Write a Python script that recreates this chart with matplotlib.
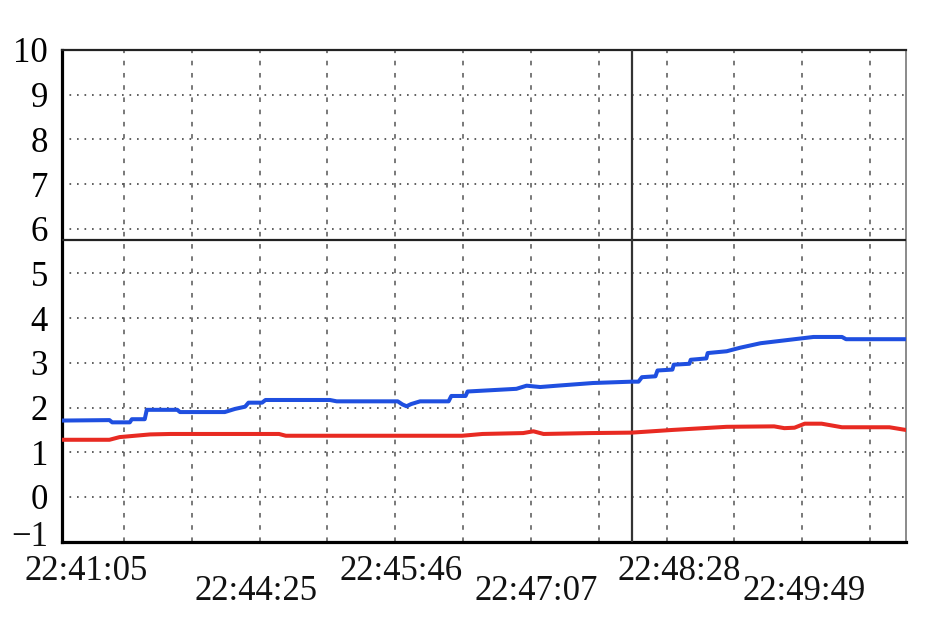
import matplotlib.pyplot as plt
from matplotlib.ticker import FixedLocator

# x is measured in grid divisions from the left edge of the plot
blue_x = [0.0, 0.70, 0.74, 1.00, 1.03, 1.22, 1.25, 1.70, 1.74, 2.40, 2.55, 2.70, 2.75, 2.95,
          3.00, 3.95, 4.05, 4.95, 5.02, 5.08, 5.15, 5.28, 5.70, 5.74, 5.95, 5.98, 6.70, 6.85,
          7.05, 7.30, 7.83, 8.40, 8.50, 8.55, 8.75, 8.78, 9.00, 9.02, 9.25, 9.27, 9.50, 9.52,
          9.80, 10.00, 10.30, 10.80, 11.08, 11.50, 11.56, 12.44]
blue_y = [1.71, 1.72, 1.67, 1.67, 1.74, 1.74, 1.95, 1.95, 1.90, 1.90, 1.97, 2.02, 2.11, 2.11,
          2.17, 2.17, 2.14, 2.14, 2.07, 2.03, 2.08, 2.14, 2.14, 2.26, 2.26, 2.36, 2.42, 2.49,
          2.46, 2.49, 2.55, 2.58, 2.58, 2.68, 2.70, 2.83, 2.85, 2.96, 2.98, 3.07, 3.10, 3.22,
          3.26, 3.34, 3.44, 3.53, 3.58, 3.58, 3.53, 3.53]

red_x = [0.0, 0.70, 0.85, 1.30, 1.60, 3.20, 3.30, 5.90, 6.20, 6.80, 6.95, 7.10, 7.80, 8.40,
         9.00, 9.80, 10.50, 10.65, 10.80, 10.95, 11.20, 11.50, 12.20, 12.44]
red_y = [1.28, 1.28, 1.34, 1.40, 1.41, 1.41, 1.37, 1.37, 1.41, 1.43, 1.47, 1.41, 1.43, 1.44,
         1.50, 1.57, 1.58, 1.54, 1.55, 1.64, 1.64, 1.56, 1.56, 1.50]

time_labels = ["22:41:05", "22:44:25", "22:45:46", "22:47:07", "22:48:28", "22:49:49"]
label_pos = [0.35, 2.86, 5.00, 6.99, 9.10, 10.94]
grid_x = [0.914 + k for k in range(12)]
y_ticks = list(range(0, 11))
limit_level = 5.75
cursor_x = 8.40

plt.rcParams['font.family'] = ['Liberation Serif', 'DejaVu Serif']

fig = plt.figure(figsize=(9.42, 6.24), dpi=100)
ax = fig.add_axes([0.0658, 0.1319, 0.8957, 0.788])

ax.plot(blue_x, blue_y, color='#1f4fe0', lw=2.9, zorder=4)
ax.plot(red_x, red_y, color='#e82a22', lw=2.9, zorder=4)

ax.axhline(limit_level, color='#222222', lw=1.6, zorder=3)
ax.axvline(cursor_x, color='#333333', lw=1.6, zorder=3)

ax.set_xlim(0, 12.44)
ax.set_ylim(-1, 10)
ax.set_yticks(y_ticks)
ax.tick_params(axis='y', length=0, pad=10, labelsize=25)
# the -1 label sits a little higher than its tick in the reference
ax.annotate('\u22121', xy=(0, -1), xycoords=('axes fraction', 'data'),
            xytext=(-10, 6), textcoords='offset points', ha='right', va='center_baseline',
            fontsize=25, color='#111111')

ax.xaxis.set_major_locator(FixedLocator(grid_x))
ax.set_xticklabels([])
ax.tick_params(axis='x', length=0)

ax.grid(axis='y', color='#444444', lw=1.2, linestyle=(0, (1, 3.5)))
ax.grid(axis='x', color='#555555', lw=1.1, linestyle=(0, (3, 5)))

for i, (lab, pos) in enumerate(zip(time_labels, label_pos)):
    yy = -0.078 if i % 2 == 0 else -0.119
    ax.text(pos, yy, lab, transform=ax.get_xaxis_transform(), ha='center', va='baseline',
            fontsize=25, color='#111111')

ax.spines['left'].set_linewidth(2.3)
ax.spines['bottom'].set_linewidth(2.3)
ax.spines['top'].set_linewidth(1.6)
ax.spines['top'].set_color('#222222')
ax.spines['right'].set_linewidth(1.2)
ax.spines['right'].set_color('#777777')

fig.savefig('out.png', dpi=100)
